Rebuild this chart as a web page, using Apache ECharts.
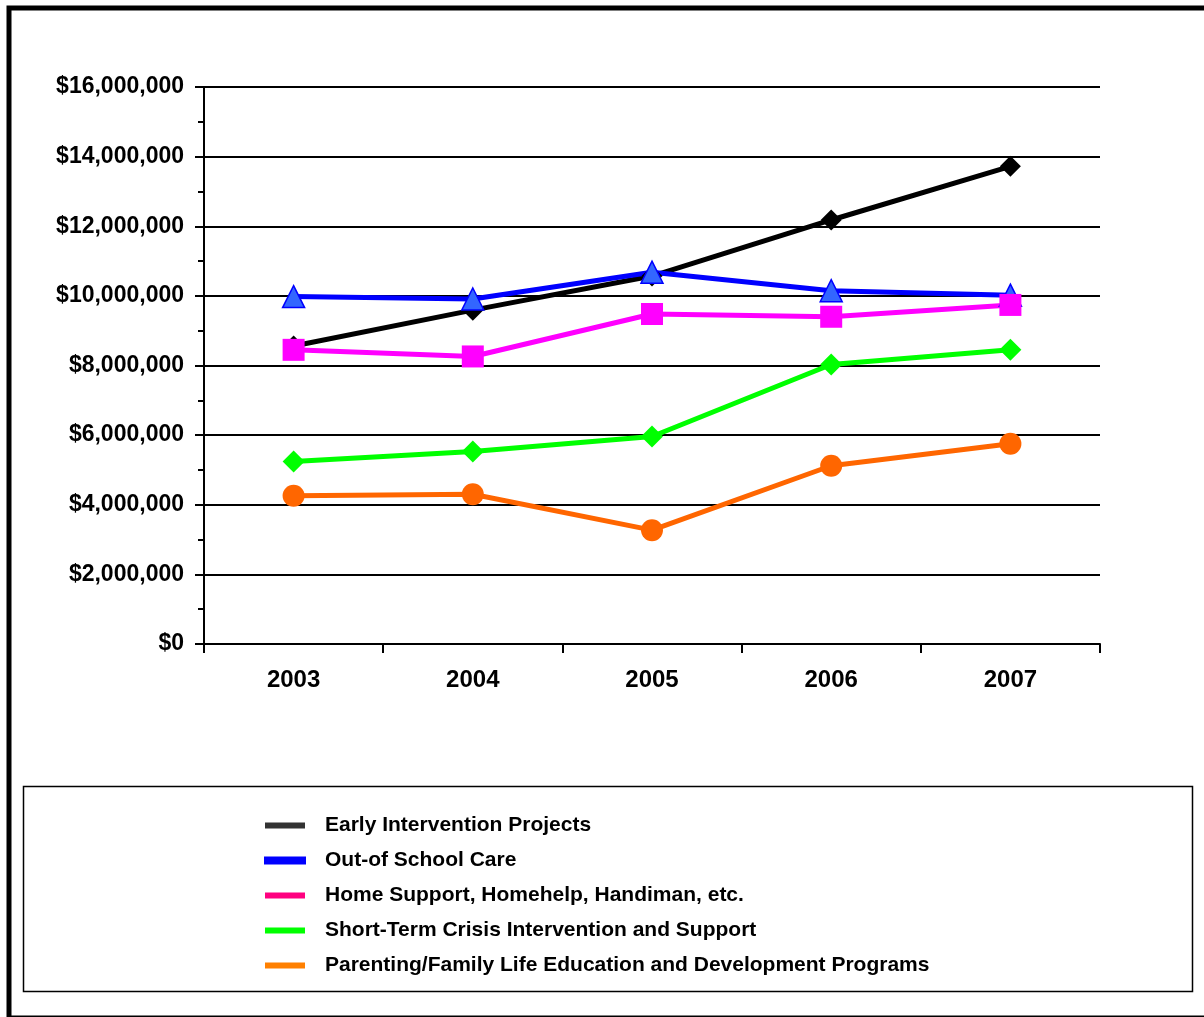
<!DOCTYPE html>
<html>
<head>
<meta charset="utf-8">
<script src="https://cdn.jsdelivr.net/npm/echarts@6/dist/echarts.min.js"></script>
<style>
	html, body { margin: 0; padding: 0; background: #fff; }
	#chart { width: 1204px; height: 1017px; }
</style>
</head>
<body>
<div id="chart"></div>
<script>
const years = ['2003', '2004', '2005', '2006', '2007']
const earlyIntervention = [8560000, 9590000, 10570000, 12180000, 13720000]
const outOfSchool = [9980000, 9910000, 10680000, 10150000, 10020000]
const homeSupport = [8450000, 8260000, 9480000, 9400000, 9740000]
const shortTerm = [5240000, 5530000, 5960000, 8030000, 8450000]
const parenting = [4260000, 4300000, 3270000, 5120000, 5750000]
const yTicks = [0, 2000000, 4000000, 6000000, 8000000, 10000000, 12000000, 14000000, 16000000]

const font = 'Liberation Sans, Arial, sans-serif'
const chart = echarts.init(document.getElementById('chart'))

function money(v) {
	return '$' + String(v).replace(/\B(?=(\d{3})+(?!\d))/g, ',')
}

function lineSeries(name, data, color, symbol, size, itemStyle) {
	return {
		name: name,
		type: 'line',
		data: data,
		symbol: symbol,
		symbolSize: size,
		lineStyle: { color: color, width: 5 },
		itemStyle: itemStyle || { color: color },
		emphasis: { disabled: true }
	}
}

chart.setOption({
	animation: false,
	backgroundColor: '#fff',
	graphic: [
		{
			type: 'rect',
			shape: { x: 9, y: 8, width: 1300, height: 1010 },
			style: { fill: null, stroke: '#000', lineWidth: 5 },
			z: 100
		},
		{
			type: 'rect',
			shape: { x: 23.5, y: 786.5, width: 1169, height: 205 },
			style: { fill: null, stroke: '#000', lineWidth: 1.5 },
			z: 100
		}
	],
	legend: {
		orient: 'vertical',
		left: 259,
		top: 810,
		itemWidth: 40,
		itemHeight: 6,
		itemGap: 14,
		icon: 'rect',
		textStyle: {
			fontFamily: font,
			fontWeight: 'bold',
			fontSize: 21,
			color: '#000',
			padding: [0, 0, 0, 15]
		},
		data: [
			{ name: 'Early Intervention Projects', itemStyle: { color: '#333333' } },
			{ name: 'Out-of School Care', itemStyle: { color: '#0000ff' } },
			{ name: 'Home Support, Homehelp, Handiman, etc.', itemStyle: { color: '#ff0080' } },
			{ name: 'Short-Term Crisis Intervention and Support', itemStyle: { color: '#00ff00' } },
			{ name: 'Parenting/Family Life Education and Development Programs', itemStyle: { color: '#ff8000' } }
		]
	},
	grid: {
		left: 204,
		right: 104,
		top: 87,
		bottom: 373,
		containLabel: false
	},
	xAxis: {
		type: 'category',
		data: years,
		boundaryGap: true,
		axisLine: { lineStyle: { color: '#000', width: 2 } },
		axisTick: { show: true, length: 9, lineStyle: { color: '#000', width: 2 } },
		axisLabel: {
			margin: 24,
			fontFamily: font,
			fontWeight: 'bold',
			fontSize: 24,
			color: '#000'
		}
	},
	yAxis: {
		type: 'value',
		min: yTicks[0],
		max: yTicks[yTicks.length - 1],
		interval: yTicks[1] - yTicks[0],
		axisLine: { show: true, lineStyle: { color: '#000', width: 2 } },
		axisTick: { show: true, length: 9, lineStyle: { color: '#000', width: 2 } },
		minorTick: { show: true, splitNumber: 2, length: 6, lineStyle: { color: '#000', width: 2 } },
		splitLine: { show: true, lineStyle: { color: '#000', width: 2 } },
		axisLabel: {
			margin: 20,
			fontFamily: font,
			fontWeight: 'bold',
			fontSize: 23,
			color: '#000',
			formatter: money
		}
	},
	series: [
		lineSeries('Early Intervention Projects', earlyIntervention, '#000000', 'diamond', 21),
		lineSeries('Out-of School Care', outOfSchool, '#0000ff', 'triangle', 22,
			{ color: '#3366ff', borderColor: '#0000ff', borderWidth: 1.5 }),
		lineSeries('Home Support, Homehelp, Handiman, etc.', homeSupport, '#ff00ff', 'rect', 22),
		lineSeries('Short-Term Crisis Intervention and Support', shortTerm, '#00ff00', 'diamond', 22),
		lineSeries('Parenting/Family Life Education and Development Programs', parenting, '#ff6600', 'circle', 22)
	]
})
</script>
</body>
</html>
